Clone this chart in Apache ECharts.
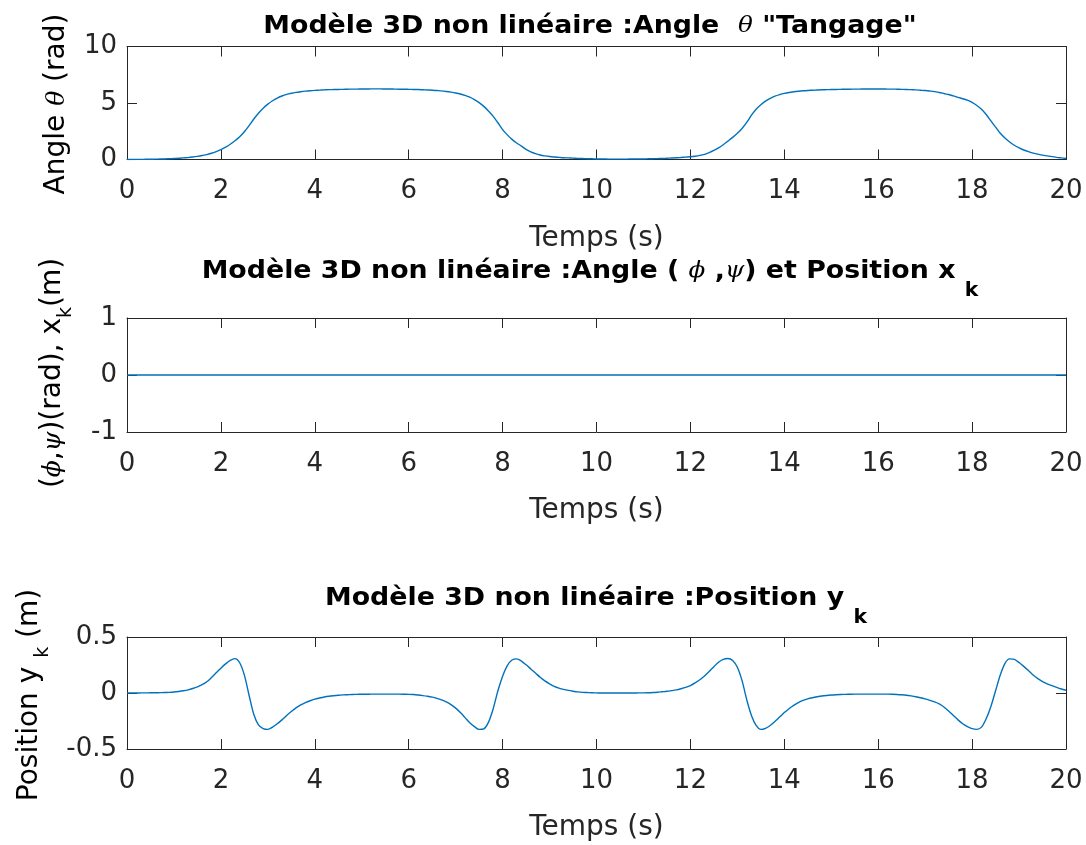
<!DOCTYPE html>
<html>
<head>
<meta charset="utf-8">
<script src="https://cdn.jsdelivr.net/npm/echarts@6/dist/echarts.min.js"></script>
<style>
  html, body { margin: 0; padding: 0; background: #ffffff; }
  #chart { width: 1086px; height: 845px; }
</style>
</head>
<body>
<div id="chart"></div>
<script>
// Simulation output, sampled every 0.1 s from 0 to 20 s
const timeStep = 0.1;

// Pitch angle theta (rad)
const theta = [
  0.00, 0.00, 0.01, 0.01, 0.02, 0.02, 0.03, 0.04, 0.05, 0.07,
  0.09, 0.11, 0.14, 0.17, 0.22, 0.28, 0.35, 0.43, 0.55, 0.69,
  0.87, 1.09, 1.35, 1.66, 2.02, 2.46, 3.00, 3.58, 4.10, 4.54,
  4.90, 5.20, 5.44, 5.62, 5.76, 5.86, 5.94, 6.00, 6.05, 6.09,
  6.12, 6.14, 6.16, 6.18, 6.19, 6.20, 6.21, 6.22, 6.23, 6.23,
  6.24, 6.24, 6.25, 6.25, 6.25, 6.24, 6.24, 6.23, 6.22, 6.22,
  6.21, 6.20, 6.19, 6.17, 6.15, 6.13, 6.10, 6.07, 6.02, 5.96,
  5.89, 5.80, 5.68, 5.52, 5.30, 5.03, 4.70, 4.28, 3.82, 3.25,
  2.65, 2.18, 1.78, 1.46, 1.19, 0.90, 0.68, 0.52, 0.40, 0.32,
  0.26, 0.22, 0.19, 0.16, 0.14, 0.12, 0.10, 0.09, 0.07, 0.06,
  0.05, 0.04, 0.04, 0.03, 0.03, 0.03, 0.03, 0.04, 0.04, 0.05,
  0.05, 0.06, 0.07, 0.08, 0.09, 0.11, 0.13, 0.15, 0.18, 0.21,
  0.24, 0.29, 0.36, 0.46, 0.61, 0.80, 1.03, 1.31, 1.63, 1.96,
  2.32, 2.75, 3.28, 3.92, 4.45, 4.85, 5.16, 5.40, 5.60, 5.74,
  5.85, 5.93, 5.99, 6.04, 6.08, 6.11, 6.13, 6.15, 6.17, 6.18,
  6.19, 6.20, 6.21, 6.22, 6.22, 6.23, 6.23, 6.24, 6.24, 6.24,
  6.24, 6.24, 6.23, 6.23, 6.22, 6.21, 6.20, 6.18, 6.16, 6.13,
  6.10, 6.06, 6.01, 5.93, 5.84, 5.75, 5.63, 5.50, 5.38, 5.25,
  5.05, 4.78, 4.45, 3.98, 3.42, 2.86, 2.32, 1.90, 1.55, 1.26,
  1.03, 0.84, 0.69, 0.57, 0.47, 0.39, 0.32, 0.25, 0.19, 0.14,
  0.09
];

// Lateral position y_k (m)
const yk = [
  0.000, 0.000, 0.000, 0.001, 0.001, 0.002, 0.002, 0.003, 0.004, 0.006,
  0.009, 0.014, 0.020, 0.028, 0.040, 0.055, 0.074, 0.100, 0.138, 0.180,
  0.222, 0.260, 0.292, 0.307, 0.270, 0.160, -0.020, -0.190, -0.285, -0.318,
  -0.325, -0.305, -0.275, -0.240, -0.200, -0.165, -0.133, -0.107, -0.086, -0.069,
  -0.055, -0.045, -0.036, -0.029, -0.024, -0.020, -0.017, -0.015, -0.013, -0.012,
  -0.011, -0.011, -0.010, -0.010, -0.010, -0.010, -0.010, -0.010, -0.010, -0.011,
  -0.012, -0.014, -0.018, -0.023, -0.029, -0.037, -0.048, -0.062, -0.080, -0.104,
  -0.135, -0.175, -0.220, -0.265, -0.300, -0.325, -0.320, -0.260, -0.140, 0.020,
  0.150, 0.245, 0.295, 0.305, 0.285, 0.252, 0.215, 0.178, 0.140, 0.108,
  0.082, 0.060, 0.044, 0.032, 0.023, 0.016, 0.010, 0.006, 0.004, 0.002,
  0.001, 0.000, 0.000, 0.000, 0.000, 0.000, 0.000, 0.000, 0.000, 0.001,
  0.001, 0.002, 0.004, 0.007, 0.011, 0.015, 0.021, 0.028, 0.038, 0.050,
  0.066, 0.090, 0.118, 0.152, 0.192, 0.235, 0.275, 0.300, 0.308, 0.290,
  0.230, 0.110, -0.060, -0.200, -0.290, -0.325, -0.315, -0.290, -0.255, -0.215,
  -0.175, -0.140, -0.110, -0.085, -0.066, -0.052, -0.042, -0.034, -0.027, -0.022,
  -0.018, -0.015, -0.013, -0.012, -0.011, -0.010, -0.010, -0.010, -0.010, -0.010,
  -0.010, -0.010, -0.010, -0.011, -0.013, -0.016, -0.020, -0.026, -0.033, -0.042,
  -0.053, -0.066, -0.080, -0.098, -0.125, -0.160, -0.200, -0.240, -0.275, -0.300,
  -0.318, -0.325, -0.305, -0.230, -0.120, 0.020, 0.160, 0.265, 0.305, 0.300,
  0.272, 0.238, 0.200, 0.160, 0.128, 0.102, 0.082, 0.066, 0.050, 0.036,
  0.025
];

// Roll / yaw angles and longitudinal position x_k: identically zero
const phiPsiXTime = [0, 1, 2, 3, 4, 5, 6, 7, 8, 9, 10, 11, 12, 13, 14, 15, 16, 17, 18, 19, 20];
const phiPsiX     = [0, 0, 0, 0, 0, 0, 0, 0, 0, 0, 0, 0, 0, 0, 0, 0, 0, 0, 0, 0, 0];

// Axis ranges [min, max, interval]
const timeRange  = [0, 20, 2];
const thetaRange = [0, 10, 5];
const midRange   = [-1, 1, 1];
const ykRange    = [-0.5, 0.5, 0.5];

const FONT = '"DejaVu Sans", "Liberation Sans", Arial, sans-serif';
const GREEK = '"DejaVu Serif", "Liberation Serif", serif';
const INK = '#262626';
const LINE = '#0072BD';

const withTime = (vals) => vals.map((v, i) => [Math.round(i * timeStep * 10) / 10, v]);

const grids = [
  { left: 127, width: 939, top: 46.5, height: 113 },
  { left: 127, width: 939, top: 318, height: 114 },
  { left: 127, width: 939, top: 637, height: 112 }
];

function xAxes(gi) {
  const base = {
    type: 'value', gridIndex: gi,
    min: timeRange[0], max: timeRange[1], interval: timeRange[2],
    axisLine: { show: true, onZero: false, lineStyle: { color: INK, width: 1 } },
    axisTick: { show: true, inside: true, length: 10, lineStyle: { color: INK, width: 1 } },
    splitLine: { show: false }
  };
  return [
    Object.assign({}, base, {
      position: 'bottom',
      axisLabel: { color: INK, fontSize: 26, fontFamily: FONT, margin: 19 },
      name: 'Temps (s)', nameLocation: 'middle', nameGap: 65,
      nameTextStyle: { color: INK, fontSize: 28, fontFamily: FONT }
    }),
    Object.assign({}, base, { position: 'top', axisLabel: { show: false } })
  ];
}

function yAxes(gi, range) {
  const base = {
    type: 'value', gridIndex: gi,
    min: range[0], max: range[1], interval: range[2],
    axisLine: { show: true, onZero: false, lineStyle: { color: INK, width: 1 } },
    axisTick: { show: true, inside: true, length: 10, lineStyle: { color: INK, width: 1 } },
    splitLine: { show: false }
  };
  return [
    Object.assign({}, base, {
      position: 'left',
      axisLabel: { color: INK, fontSize: 26, fontFamily: FONT, margin: 10 }
    }),
    Object.assign({}, base, { position: 'right', axisLabel: { show: false } })
  ];
}

const richTitle = {
  b: { fontFamily: FONT, fontWeight: 'bold', fontSize: 25, color: '#000' },
  g: { fontFamily: GREEK, fontStyle: 'italic', fontWeight: 'normal', fontSize: 23, color: '#000' },
  s: { fontFamily: FONT, fontWeight: 'bold', fontSize: 19, color: '#000', padding: [40, 0, 0, 0] }
};
const richLabel = {
  n: { fontFamily: FONT, fontSize: 28, color: INK },
  g: { fontFamily: GREEK, fontStyle: 'italic', fontSize: 25, color: INK },
  s: { fontFamily: FONT, fontSize: 19, color: INK, padding: [26, 0, 0, 0] }
};

function textItem(x, y, text, rich, rotation, scaleX) {
  return {
    type: 'text', x: x, y: y, rotation: rotation || 0, scaleX: scaleX || 1,
    style: { text: text, rich: rich, align: 'center', verticalAlign: 'middle' }
  };
}

function lineSeries(xi, yi, data) {
  return {
    type: 'line', xAxisIndex: xi, yAxisIndex: yi, data: data,
    showSymbol: false, smooth: 0.3,
    lineStyle: { color: LINE, width: 1.4 }, itemStyle: { color: LINE }
  };
}

const option = {
  animation: false,
  backgroundColor: '#ffffff',
  grid: grids,
  xAxis: [].concat(xAxes(0), xAxes(1), xAxes(2)),
  yAxis: [].concat(yAxes(0, thetaRange), yAxes(1, midRange), yAxes(2, ykRange)),
  series: [
    lineSeries(0, 0, withTime(theta)),
    lineSeries(2, 2, phiPsiXTime.map((t, i) => [t, phiPsiX[i]])),
    lineSeries(4, 4, withTime(yk))
  ],
  graphic: [
    textItem(590, 26, '{b|Modèle 3D non linéaire :Angle  }{g|θ}{b| "Tangage"}', richTitle, 0, 1.072),
    textItem(590, 271, '{b|Modèle 3D non linéaire :Angle ( }{g|ϕ}{b| ,}{g|ψ}{b|) et Position x }{s|k}', richTitle, 0, 1.072),
    textItem(596, 598, '{b|Modèle 3D non linéaire :Position y }{s|k}', richTitle, 0, 1.072),
    textItem(57, 104, '{n|Angle }{g|θ}{n| (rad)}', richLabel, Math.PI / 2),
    textItem(53, 373, '{n|(}{g|ϕ}{n|,}{g|ψ}{n|)(rad), x}{s|k}{n|(m)}', richLabel, Math.PI / 2),
    textItem(30, 695, '{n|Position y }{s|k}{n| (m)}', richLabel, Math.PI / 2)
  ]
};

const chart = echarts.init(document.getElementById('chart'), null, { renderer: 'canvas' });
chart.setOption(option);
</script>
</body>
</html>
